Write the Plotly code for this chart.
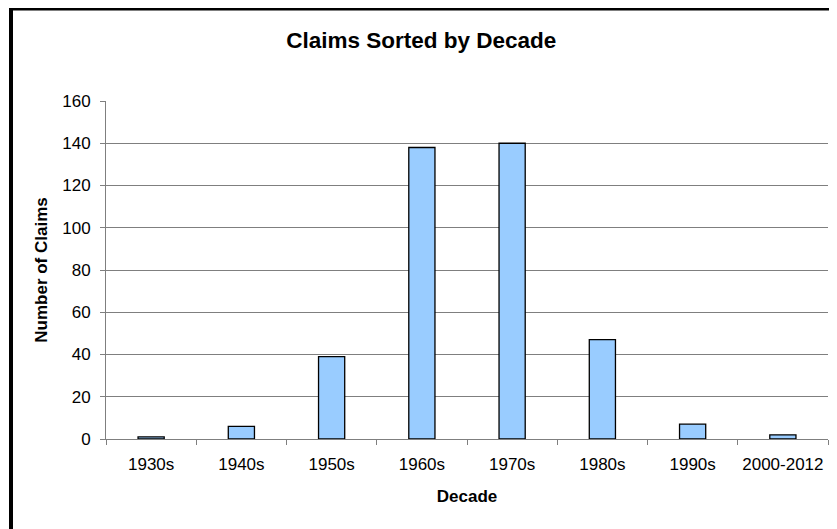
import plotly.graph_objects as go

decades = ["1930s", "1940s", "1950s", "1960s", "1970s", "1980s", "1990s", "2000-2012"]
claims = [1, 6, 39, 138, 140, 47, 7, 2]
y_ticks = [0, 20, 40, 60, 80, 100, 120, 140, 160]

# page body has an 8px margin, so the figure is sized to the visible window
W, H = 829, 521
L, R, T, B = 98, 9, 93, 90
pw, ph = W - L - R, H - T - B

fig = go.Figure(go.Bar(
    x=decades, y=claims,
    marker=dict(color="#99CCFF", line=dict(color="#000000", width=1.3)),
))

grid = "#7f7f7f"
fig.update_layout(
    width=W, height=H,
    margin=dict(l=L, r=R, t=T, b=B, autoexpand=False),
    paper_bgcolor="white", plot_bgcolor="white",
    font=dict(family="Liberation Sans, Arial", color="#000000", size=17),
    bargap=0.71,
    showlegend=False,
    title=dict(text="<b>Claims Sorted by Decade</b>", x=(W - 9) / 2 / W + 0.004, xanchor="center",
               y=1 - 32 / H, yanchor="middle", font=dict(size=22.5)),
    xaxis=dict(type="category", tickson="boundaries", ticks="outside", ticklen=5,
               tickangle=0, automargin=False, ticklabelstandoff=10,
               tickcolor=grid, showline=True, linecolor=grid, linewidth=1,
               showgrid=False, tickfont=dict(size=17),
               title=dict(text="<b>Decade</b>", font=dict(size=17), standoff=16)),
    yaxis=dict(range=[0, 160], tickvals=y_ticks, ticks="outside", ticklen=5,
               automargin=False, ticklabelstandoff=6,
               tickcolor=grid, showline=True, linecolor=grid, linewidth=1,
               gridcolor=grid, gridwidth=1, zeroline=False, tickfont=dict(size=17),
               title=dict(text="<b>Number of Claims</b>", font=dict(size=17), standoff=10)),
)

# outer chart frame (extends past right/bottom edges like the source)
fig.add_shape(type="rect", xref="paper", yref="paper",
              x0=(3 - L) / pw, x1=(W + 20 - L) / pw,
              y0=-(B + 20) / ph, y1=(H - B - 0.5) / ph,
              line=dict(color="#000000", width=4), fillcolor="rgba(0,0,0,0)",
              layer="below")

fig.write_html("out.html")
